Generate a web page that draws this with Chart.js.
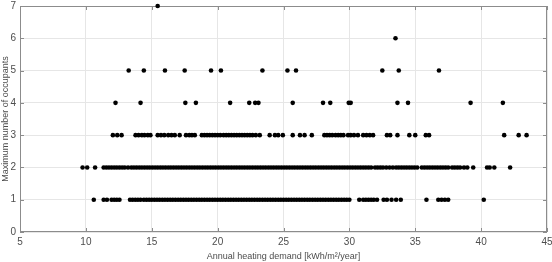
<!DOCTYPE html>
<html>
<head>
<meta charset="utf-8">
<script src="https://cdn.jsdelivr.net/npm/chart.js@4"></script>
<style>
  html, body { margin: 0; padding: 0; background: #fff; }
  #wrap { width: 552px; height: 262px; }
</style>
</head>
<body>
<div id="wrap"><canvas id="scatterChart"></canvas></div>
<script>
// heating demand [kWh/m2/year] of each dwelling, grouped by max occupants
const occ7 = [15.45];
const occ6 = [33.5];
const occ5 = [13.25, 14.4, 16.0, 17.5, 19.5, 20.25, 23.4, 25.3, 25.95, 32.5, 33.75, 36.8];
const occ4 = [12.25, 14.15, 17.55, 18.35, 20.95, 22.4, 22.85, 23.1, 25.7, 28.0, 28.55,
  29.95, 30.1, 33.65, 34.45, 39.2, 41.65];
const occ3 = [12.05, 12.38, 12.71, 13.77, 14.0, 14.25, 14.45, 14.7, 14.9,
  15.45, 15.7, 15.95, 16.25, 16.5, 16.75, 17.12, 17.6, 17.85, 18.05, 18.27,
  18.8, 19.0, 19.2, 19.4, 19.6, 19.8, 20.0, 20.2, 20.45, 20.65, 20.85, 21.05,
  21.25, 21.45, 21.65, 21.85, 22.05, 22.25, 22.45, 22.65, 22.9, 23.2, 23.95,
  24.35, 24.6, 24.95, 25.7, 26.25, 26.6, 27.15, 28.1, 28.3, 28.5, 28.7, 28.95,
  29.15, 29.35, 29.55, 29.9, 30.1, 30.35, 30.65, 31.05, 31.3, 31.55, 31.8,
  32.85, 33.1, 33.65, 34.55, 35.0, 35.8, 36.05, 41.75, 42.85, 43.45];
const occ2 = [9.75, 10.1, 10.7, 11.35, 11.55, 11.75, 11.95, 12.15, 12.35, 12.55,
  12.75, 12.95, 13.2, 13.45, 13.65, 13.85, 14.05, 14.25, 14.45, 14.65, 14.85,
  15.05, 15.25, 15.45, 15.65, 15.85, 16.05, 16.25, 16.45, 16.65, 16.85, 17.05,
  17.25, 17.45, 17.65, 17.85, 18.05, 18.25, 18.45, 18.65, 18.85, 19.05, 19.25,
  19.45, 19.65, 19.85, 20.05, 20.25, 20.45, 20.65, 20.85, 21.05, 21.25, 21.45,
  21.65, 21.85, 22.05, 22.25, 22.45, 22.65, 22.85, 23.05, 23.25, 23.45, 23.65,
  23.85, 24.05, 24.25, 24.45, 24.65, 24.85, 25.05, 25.25, 25.45, 25.65, 25.85,
  26.05, 26.25, 26.45, 26.65, 26.85, 27.05, 27.25, 27.45, 27.65, 27.85, 28.05,
  28.25, 28.45, 28.65, 28.85, 29.05, 29.25, 29.45, 29.65, 29.85, 30.05, 30.25,
  30.45, 30.65, 30.85, 31.05, 31.25, 31.45, 31.65, 31.95, 32.15, 32.35, 32.55,
  32.8, 33.05, 33.3, 33.55, 33.75, 33.95, 34.15, 34.35, 34.55, 34.75, 34.95,
  35.15, 35.5, 35.7, 35.9, 36.1, 36.3, 36.5, 36.7, 36.9, 37.1, 37.3, 37.5,
  37.8, 38.0, 38.2, 38.4, 38.7, 38.95, 39.4, 40.45, 40.65, 41.0, 42.2];
const occ1 = [10.6, 11.35, 11.6, 11.95, 12.15, 12.35, 12.55, 13.35, 13.55, 13.75,
  13.95, 14.15, 14.4, 14.6, 14.8, 15.0, 15.2, 15.4, 15.6, 15.8, 16.0, 16.2,
  16.4, 16.6, 16.8, 17.0, 17.2, 17.4, 17.6, 17.8, 18.0, 18.2, 18.4, 18.6, 18.8,
  19.0, 19.2, 19.4, 19.6, 19.8, 20.0, 20.2, 20.4, 20.6, 20.8, 21.0, 21.2, 21.4,
  21.6, 21.8, 22.0, 22.2, 22.4, 22.6, 22.8, 23.0, 23.2, 23.4, 23.6, 23.8, 24.0,
  24.2, 24.4, 24.6, 24.8, 25.0, 25.2, 25.4, 25.6, 25.8, 26.0, 26.2, 26.4, 26.6,
  26.8, 27.0, 27.2, 27.4, 27.6, 27.8, 28.0, 28.2, 28.4, 28.6, 28.8, 29.0, 29.2,
  29.4, 29.6, 29.8, 30.0, 30.75, 31.05, 31.25, 31.45, 31.65, 31.85, 32.1,
  32.6, 32.85, 33.2, 33.55, 33.9, 35.85, 36.75, 37.0, 37.25, 37.5, 40.2];

const xTicks = [5, 10, 15, 20, 25, 30, 35, 40, 45];
const yTicks = [0, 1, 2, 3, 4, 5, 6, 7];

const groups = [[1, occ1], [2, occ2], [3, occ3], [4, occ4], [5, occ5], [6, occ6], [7, occ7]];
const points = [];
groups.forEach(([n, xs]) => xs.forEach(x => points.push({ x, y: n })));

const axisGray = '#8c8c8c';
const labelGray = '#4d4d4d';
const fontFam = 'Liberation Sans, Arial, sans-serif';

// MATLAB-like box with inward ticks
const boxTicks = {
  id: 'boxTicks',
  beforeDatasetsDraw(chart) {
    const { ctx, chartArea: a, scales } = chart;
    ctx.save();
    ctx.strokeStyle = axisGray;
    ctx.lineWidth = 1;
    ctx.strokeRect(a.left + 0.5, a.top + 0.5, a.right - a.left - 1, a.bottom - a.top - 1);
    ctx.beginPath();
    xTicks.forEach(v => {
      const px = Math.round(scales.x.getPixelForValue(v)) + 0.5;
      ctx.moveTo(px, a.bottom); ctx.lineTo(px, a.bottom - 4);
      ctx.moveTo(px, a.top); ctx.lineTo(px, a.top + 4);
    });
    yTicks.forEach(v => {
      const py = Math.round(scales.y.getPixelForValue(v)) + 0.5;
      ctx.moveTo(a.left, py); ctx.lineTo(a.left + 4, py);
      ctx.moveTo(a.right, py); ctx.lineTo(a.right - 4, py);
    });
    ctx.stroke();
    ctx.restore();
  }
};

new Chart(document.getElementById('scatterChart'), {
  type: 'scatter',
  data: {
    datasets: [{
      data: points,
      backgroundColor: '#000',
      borderColor: '#000',
      pointRadius: 2.3,
      pointBorderWidth: 0,
      pointHoverRadius: 2.3,
      clip: false
    }]
  },
  options: {
    responsive: true,
    maintainAspectRatio: false,
    animation: false,
    layout: { padding: { top: 6, right: 5, left: 0, bottom: 0 } },
    plugins: { legend: { display: false }, tooltip: { enabled: false } },
    scales: {
      x: {
        type: 'linear',
        min: 5,
        max: 45,
        afterBuildTicks: s => { s.ticks = xTicks.map(v => ({ value: v })); },
        afterFit: s => { s.height = 30; s.paddingLeft = 0; s.paddingRight = 0; },
        grid: { color: '#e6e6e6', drawTicks: false },
        border: { display: false },
        ticks: { color: labelGray, padding: 4, font: { family: fontFam, size: 10 } },
        title: {
          display: true,
          text: 'Annual heating demand [kWh/m²/year]',
          color: labelGray,
          padding: { top: 2, bottom: 0 },
          font: { family: fontFam, size: 9 }
        }
      },
      y: {
        min: 0,
        max: 7,
        afterBuildTicks: s => { s.ticks = yTicks.map(v => ({ value: v })); },
        afterFit: s => { s.width = 20; s.paddingTop = 0; s.paddingBottom = 0; },
        grid: { color: '#e6e6e6', drawTicks: false },
        border: { display: false },
        ticks: { color: labelGray, padding: 4, font: { family: fontFam, size: 10 } },
        title: {
          display: true,
          text: 'Maximum number of occupants',
          color: labelGray,
          padding: { top: 0, bottom: 0 },
          font: { family: fontFam, size: 9 }
        }
      }
    }
  },
  plugins: [boxTicks]
});
</script>
</body>
</html>
